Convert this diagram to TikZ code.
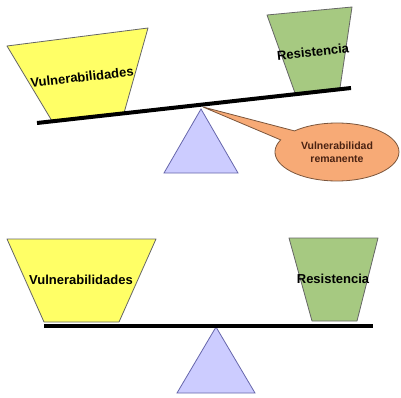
\documentclass[tikz,border=0pt]{standalone}
\usepackage{xcolor}
\usepackage{fontspec}
\setmainfont{Liberation Sans}
\usepackage{tikz}
\usetikzlibrary{shapes.callouts}
\definecolor{vulfill}{HTML}{FFFF66}
\definecolor{resfill}{HTML}{A6C981}
\definecolor{basefill}{HTML}{CCCCFF}
\definecolor{calloutfill}{HTML}{F7AA76}
\definecolor{callouttext}{HTML}{4A2212}
\tikzstyle{vulbox} = [draw=black!60, fill=vulfill, line width=0.8pt, line join=round]
\tikzstyle{resbox} = [draw=black!60, fill=resfill, line width=0.8pt, line join=round]
\tikzstyle{fulcrum} = [draw=black!55!blue!60, fill=basefill, line width=0.8pt]
\tikzstyle{beam} = [draw=black, line width=4pt]
\tikzstyle{weightlabel} = [font=\fontsize{13}{15}\selectfont\bfseries, inner sep=0pt]
\tikzstyle{remnote} = [ellipse callout, draw=black!50!calloutfill, fill=calloutfill,
line width=0.8pt, minimum width=124pt, minimum height=58pt, callout pointer arc=22,
align=center, text=callouttext, font=\fontsize{10.5}{13}\selectfont\bfseries]

\begin{document}
\begin{tikzpicture}[x=1pt,y=-1pt]
        \useasboundingbox (0,0) rectangle (401,398);
        % tilted balance
        \draw[vulbox] (7,46) -- (148,28) -- (124,113) -- (52,121) -- cycle;
        \draw[resbox] (267,15) -- (352,7) -- (340,88) -- (295,93) -- cycle;
        \draw[fulcrum] (201,109) -- (238,173) -- (164,173) -- cycle;
        \draw[beam] (37,123) -- (351,88);
        \node[weightlabel, rotate=6.4] (vultop) at (82,77) {Vulnerabilidades};
        \node[weightlabel, rotate=6] (restop) at (313,52) {Resistencia};
        \coordinate (pivot) at (203,107);
        \node[remnote, callout absolute pointer=(pivot)] (remanente) at (337,152)
            {Vulnerabilidad\\remanente};
        % level balance
        \draw[vulbox] (7,239) -- (156,239) -- (119,322) -- (44,322) -- cycle;
        \draw[resbox] (289,238) -- (378,238) -- (357,321) -- (312,321) -- cycle;
        \draw[fulcrum] (216,327) -- (255,393) -- (177,393) -- cycle;
        \draw[beam] (44,326) -- (373,326);
        \node[weightlabel] (vulbottom) at (81,280) {Vulnerabilidades};
        \node[weightlabel] (resbottom) at (333,279) {Resistencia};
    \end{tikzpicture}
\end{document}
